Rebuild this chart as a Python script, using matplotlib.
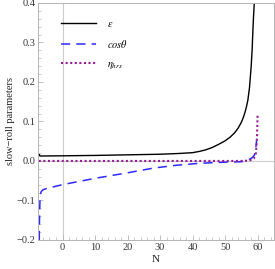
import matplotlib
matplotlib.use("Agg")
import matplotlib.pyplot as plt
from matplotlib.ticker import MultipleLocator

plt.rcParams['font.family'] = ['Liberation Serif', 'DejaVu Serif']
plt.rcParams['mathtext.fontset'] = 'stix'

# epsilon
eps_N = [-7.3, -7.15, -6.9, -6.5, -5, 0, 10, 20, 30, 36, 40, 42, 44, 46, 48, 50, 51.5, 52.9, 54, 55, 55.5,
         56, 56.5, 57, 57.5, 58, 58.3, 58.5, 58.7, 58.9, 59.05]
eps_v = [0.014, 0.0165, 0.0125, 0.0125, 0.0127, 0.013, 0.014, 0.0155, 0.017, 0.019, 0.021, 0.024, 0.028, 0.034, 0.042, 0.051, 0.06, 0.071, 0.083, 0.098, 0.108,
         0.12, 0.135, 0.154, 0.186, 0.238, 0.28, 0.322, 0.36, 0.39, 0.41]

# cos theta
cos_N = [-7.15, -7.1, -7.0, -6.9, -6.75, -6.5, -6.0, -5.0, 0, 10, 20, 28, 35, 42, 50, 55, 57, 58.3, 59.0, 59.4, 59.7]
cos_v = [-0.2, -0.16, -0.12, -0.095, -0.083, -0.077, -0.073, -0.070, -0.060, -0.044, -0.030, -0.018, -0.011, -0.006, -0.003, -0.002, 0.002, 0.008, 0.015, 0.03, 0.052]

# eta_hrs
eta_N = [-7.3, 0, 20, 40, 55, 57.5, 58.8, 59.5, 59.8, 60.0]
eta_v = [0.0, 0.0, 0.0, 0.0, 0.0, 0.001, 0.006, 0.02, 0.06, 0.12]

x_ticks = [0, 10, 20, 30, 40, 50, 60]
y_ticks = [-0.2, -0.1, 0.0, 0.1, 0.2, 0.3, 0.4]

fig = plt.figure(figsize=(2.75, 2.69), dpi=100)
ax = fig.add_axes([0.138, 0.108, 0.858, 0.881])

gray = '#b4b4b4'
ax.axvline(0, color='#cccccc', lw=0.8, zorder=0)
ax.axhline(0, color='#cccccc', lw=0.8, zorder=0)

ax.plot(eps_N, eps_v, color='black', lw=1.0, label=r'$\epsilon$')
ax.plot(cos_N, cos_v, color='#2a2aff', lw=1.1, dashes=(6, 4), label=r'$cos\theta$')
ax.plot(eta_N, eta_v, color='#9a1a9a', lw=1.5, dashes=(1, 1.2), label=r'$\eta_{hrs}$')

ax.set_xlim(-7.55, 65)
ax.set_ylim(-0.2, 0.4)
ax.set_xticks(x_ticks)
ax.set_yticks(y_ticks)
ax.set_yticklabels(['\u22120.2', '\u22120.1', '0.0', '0.1', '0.2', '0.3', '0.4'])
ax.xaxis.set_minor_locator(MultipleLocator(2))
ax.yaxis.set_minor_locator(MultipleLocator(0.02))
ax.tick_params(which='both', direction='in', colors=gray, labelcolor='#333333', labelsize=7.5)
ax.tick_params(which='major', length=3.5, width=0.6)
ax.tick_params(which='minor', length=2, width=0.5)
ax.tick_params(axis='both', pad=2)
for s in ax.spines.values():
    s.set_color(gray)
    s.set_linewidth(0.7)

ax.set_xlabel('N', fontsize=8, color='#222222', labelpad=2)
ax.set_ylabel('slow\u2212roll parameters', fontsize=7.5, color='#222222', labelpad=1)

leg = ax.legend(loc='upper left', bbox_to_anchor=(0.057, 0.97), frameon=False,
                fontsize=7.5, handlelength=3.4, labelspacing=0.9, handletextpad=1.0, markerfirst=True)

fig.savefig('out.png', dpi=100)
